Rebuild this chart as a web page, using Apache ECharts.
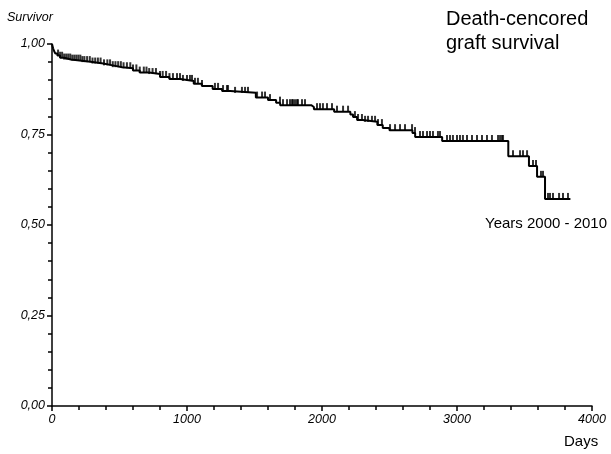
<!DOCTYPE html>
<html>
<head>
<meta charset="utf-8">
<script src="https://cdn.jsdelivr.net/npm/echarts@6/dist/echarts.min.js"></script>
<style>
  html, body { margin: 0; padding: 0; background: #fff; }
  #chart { width: 611px; height: 454px; }
</style>
</head>
<body>
<div id="chart"></div>
<script>
// Kaplan-Meier steps: [day, survival after the step]
const stepDays = [0, 8, 16, 25, 40, 60, 90, 140, 220, 300, 380, 450, 520, 600, 650, 720, 800, 870, 950, 1050,
  1110, 1190, 1260, 1320, 1510, 1600, 1660, 1690, 1920, 1940, 2090, 2210, 2230, 2260, 2300, 2410, 2450, 2500,
  2670, 2690, 2890, 3380, 3533, 3593, 3652, 3840];
const stepSurv = [1.00, 0.988, 0.98, 0.974, 0.968, 0.962, 0.957, 0.954, 0.95, 0.946, 0.941, 0.936, 0.933, 0.927,
  0.921, 0.917, 0.909, 0.903, 0.898, 0.89, 0.884, 0.876, 0.87, 0.865, 0.852, 0.845, 0.838, 0.831, 0.826, 0.82,
  0.813, 0.805, 0.798, 0.79, 0.785, 0.776, 0.768, 0.762, 0.754, 0.743, 0.732, 0.69, 0.663, 0.633, 0.572, 0.572];

// censored observations (days)
const censorDays = [45, 60, 75, 90, 105, 120, 135, 150, 165, 180, 195, 210, 225, 240, 260, 280, 300, 320, 340,
  360, 385, 410, 430, 450, 470, 490, 510, 530, 555, 580, 600, 625, 650, 680, 700, 720, 745, 770, 800, 820, 845,
  870, 896, 926, 948, 970, 1000, 1022, 1037, 1059, 1081, 1111,
  1207, 1230, 1267, 1296, 1304, 1356, 1407, 1430, 1452, 1519, 1556, 1578, 1615, 1689, 1711, 1741, 1763, 1785,
  1815, 1778, 1800, 1822, 1852, 1874, 1963, 1985, 2007, 2037, 2074, 2111, 2156, 2193, 2244, 2267, 2296, 2319,
  2341, 2370, 2393, 2415, 2444, 2504, 2541, 2578, 2615, 2667, 2689, 2726, 2748, 2778, 2800, 2822, 2859, 2874,
  2926, 2948, 2970, 3000, 3022, 3044, 3074, 3111, 3148, 3185, 3222, 3259, 3304, 3319, 3333, 3341, 3415, 3467,
  3489, 3519, 3563, 3585, 3622, 3637, 3674, 3689, 3711, 3756, 3785, 3822];

const xTicks = [0, 1000, 2000, 3000, 4000];
const yTicks = [0, 0.25, 0.5, 0.75, 1];

function survAt(d) {
  let s = stepSurv[0];
  for (let i = 0; i < stepDays.length; i++) {
    if (stepDays[i] <= d) s = stepSurv[i];
  }
  return s;
}

const curve = stepDays.map((d, i) => [d, stepSurv[i]]);
const censors = censorDays.map(d => [d, survAt(d)]);

const font = 'Liberation Sans, Arial, sans-serif';
const myChart = echarts.init(document.getElementById('chart'));
const option = {
  animation: false,
  grid: { left: 52, right: 19, top: 44, bottom: 48, containLabel: false },
  xAxis: {
    type: 'value',
    min: xTicks[0],
    max: xTicks[xTicks.length - 1],
    interval: 1000,
    splitLine: { show: false },
    axisLine: { lineStyle: { color: '#000', width: 1.5 } },
    axisTick: { length: 5, lineStyle: { color: '#000', width: 1.5 } },
    minorTick: { show: true, splitNumber: 5, length: 4, lineStyle: { color: '#000', width: 1.5 } },
    axisLabel: {
      color: '#000', fontStyle: 'italic', fontSize: 12.5, fontFamily: font, margin: 7,
      formatter: v => String(v)
    }
  },
  yAxis: {
    type: 'value',
    min: yTicks[0],
    max: yTicks[yTicks.length - 1],
    interval: 0.25,
    splitLine: { show: false },
    axisLine: { lineStyle: { color: '#000', width: 1.5 } },
    axisTick: { length: 5, lineStyle: { color: '#000', width: 1.5 } },
    minorTick: { show: true, splitNumber: 5, length: 4, lineStyle: { color: '#000', width: 1.5 } },
    axisLabel: {
      color: '#000', fontStyle: 'italic', fontSize: 12.5, fontFamily: font, margin: 7,
      formatter: v => v.toFixed(2).replace('.', ',')
    }
  },
  graphic: [
    { type: 'text', left: 7, top: 11, style: { text: 'Survivor', fontStyle: 'italic', fontSize: 12.5, fontFamily: font, fill: '#000' } },
    { type: 'text', left: 446, top: 7, style: { text: 'Death-cencored\ngraft survival', fontSize: 20, lineHeight: 24, fontFamily: font, fill: '#000' } },
    { type: 'text', left: 485, top: 216, style: { text: 'Years 2000 - 2010', fontSize: 15, fontFamily: font, fill: '#000' } },
    { type: 'text', left: 564, top: 434, style: { text: 'Days', fontSize: 15, fontFamily: font, fill: '#000' } }
  ],
  series: [
    {
      type: 'line',
      step: 'end',
      data: curve,
      showSymbol: false,
      lineStyle: { color: '#000', width: 2 }
    },
    {
      type: 'scatter',
      data: censors,
      symbol: 'rect',
      symbolSize: [2, 6],
      symbolOffset: [0, -3],
      itemStyle: { color: '#000' }
    }
  ]
};
myChart.setOption(option);
</script>
</body>
</html>
